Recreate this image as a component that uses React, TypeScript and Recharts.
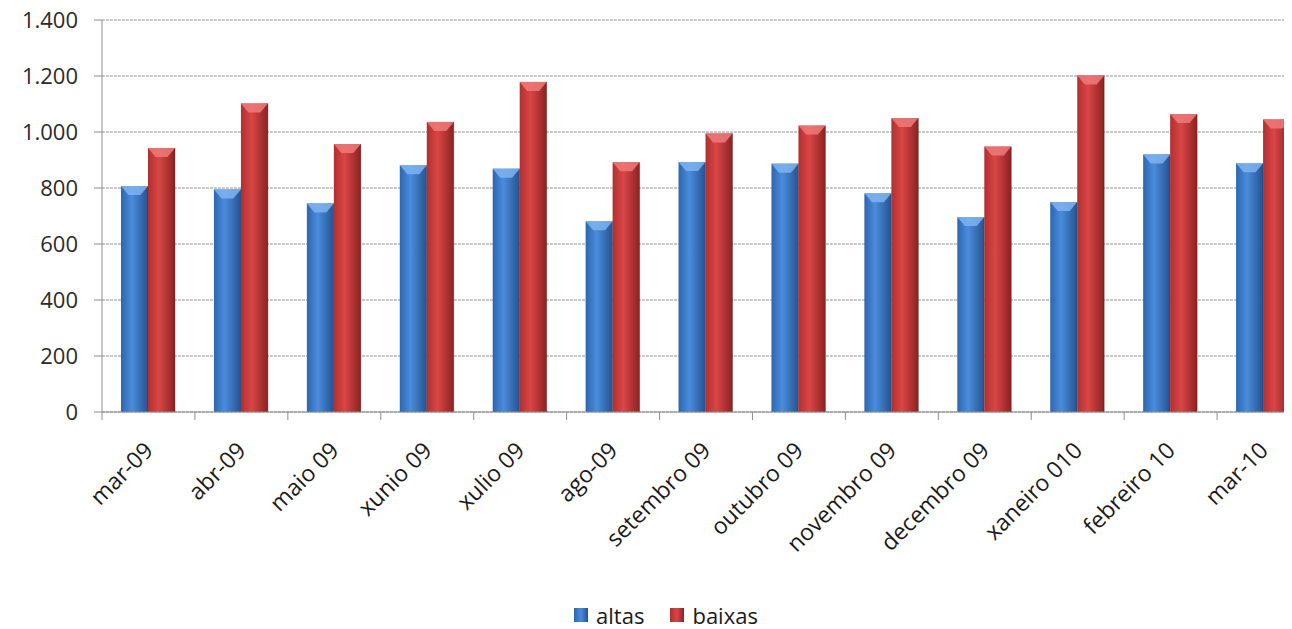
import React from "react";
import { BarChart, Bar, XAxis, YAxis, CartesianGrid, Legend } from "recharts";

const months = [
  "mar-09",
  "abr-09",
  "maio 09",
  "xunio 09",
  "xulio 09",
  "ago-09",
  "setembro 09",
  "outubro 09",
  "novembro 09",
  "decembro 09",
  "xaneiro 010",
  "febreiro 10",
  "mar-10",
];
const altas = [807, 795, 745, 881, 869, 681, 893, 887, 781, 696, 750, 920, 888];
const baixas = [943, 1102, 957, 1036, 1179, 892, 995, 1023, 1050, 948, 1202, 1064, 1045];
const yTicks = [0, 200, 400, 600, 800, 1000, 1200, 1400];

const data = months.map((m, i) => ({ month: m, altas: altas[i], baixas: baixas[i] }));

const CHART_W = 1320;
const CHART_H = 629;
const LEFT = 102;
const RIGHT_MARGIN = 10;
const BAND = (CHART_W - LEFT - RIGHT_MARGIN) / months.length;
const FONT = "'Open Sans', sans-serif";
const AXIS_GRAY = "#8e8e8e";

// "1400" -> "1.400"
const fmt = (v: number) => String(v).replace(/\B(?=(\d{3})+(?!\d))/g, ".");

const COLORS = {
  altas: { left: "#2d66b0", mid: "#4a8cdc", right: "#25538f", top: "#7fb4f0" },
  baixas: { left: "#b22f2f", mid: "#d94646", right: "#8c2222", top: "#f07a7a" },
};

// bar with a cylinder-ish gradient and a light chevron on top
const GlossyBar = (props: any) => {
  const { x, y, width, height, dataKey } = props;
  if (!height || height <= 0) return null;
  const c = COLORS[dataKey as "altas" | "baixas"];
  const bevel = Math.min(9, height);
  return (
    <g>
      <rect x={x} y={y} width={width} height={height} fill={`url(#grad-${dataKey})`} />
      <polygon
        points={`${x},${y} ${x + width},${y} ${x + width * 0.72},${y + bevel} ${x + width * 0.28},${y + bevel}`}
        fill={c.top}
        opacity={0.85}
      />
      <line x1={x + width} y1={y} x2={x + width} y2={y + height} stroke="#000" strokeOpacity={0.25} />
    </g>
  );
};

const MonthTick = (props: any) => {
  const { x, y, payload } = props;
  return (
    <g>
      <line x1={x - BAND / 2} x2={x - BAND / 2} y1={y - 8} y2={y} stroke={AXIS_GRAY} />
      <text
        transform={`translate(${x + 6},${y + 32}) rotate(-45)`}
        textAnchor="end"
        fontSize={23}
        fontFamily={FONT}
        fill="#1a1a1a"
      >
        {payload.value}
      </text>
    </g>
  );
};

const LegendContent = (props: any) => {
  const items = props.payload || [];
  return (
    <div
      style={{
        display: "flex",
        justifyContent: "center",
        gap: 26,
        paddingLeft: 40,
        fontFamily: FONT,
        fontSize: 22,
        lineHeight: "24px",
        color: "#1a1a1a",
      }}
    >
      {items.map((it: any) => {
        const c = COLORS[it.dataKey as "altas" | "baixas"];
        return (
          <div key={it.dataKey} style={{ display: "flex", alignItems: "center" }}>
            <span
              style={{
                display: "inline-block",
                width: 14,
                height: 14,
                marginRight: 8,
                background: `linear-gradient(to right, ${c.left}, ${c.mid}, ${c.right})`,
              }}
            />
            {it.value}
          </div>
        );
      })}
    </div>
  );
};

export default function App() {
  return (
    <div style={{ width: 1292, overflowX: "clip", margin: "-8px -8px 0 -8px", background: "#fff" }}>
      <BarChart
        width={CHART_W}
        height={CHART_H}
        data={data}
        margin={{ top: 20, right: RIGHT_MARGIN, left: 0, bottom: 0 }}
        barGap={0}
        barSize={27}
      >
        <defs>
          {(["altas", "baixas"] as const).map((k) => (
            <linearGradient key={k} id={`grad-${k}`} x1="0" y1="0" x2="1" y2="0">
              <stop offset="0%" stopColor={COLORS[k].left} />
              <stop offset="40%" stopColor={COLORS[k].mid} />
              <stop offset="100%" stopColor={COLORS[k].right} />
            </linearGradient>
          ))}
        </defs>
        <CartesianGrid vertical={false} stroke={AXIS_GRAY} strokeDasharray="3 1" />
        <XAxis
          dataKey="month"
          interval={0}
          height={193}
          tickLine={false}
          tickSize={8}
          tickMargin={0}
          tick={<MonthTick />}
          axisLine={{ stroke: AXIS_GRAY }}
        />
        <YAxis
          width={LEFT}
          domain={[0, 1400]}
          ticks={yTicks}
          tickFormatter={fmt}
          tickSize={8}
          tickMargin={16}
          tickLine={{ stroke: AXIS_GRAY }}
          axisLine={{ stroke: AXIS_GRAY }}
          tick={{ fontSize: 22, fontFamily: FONT, fill: "#2a2a2a" }}
        />
        <Legend
          verticalAlign="bottom"
          content={<LegendContent />}
          wrapperStyle={{ width: 1292, left: 0, top: 603, bottom: "auto" }}
        />
        <Bar dataKey="altas" name="altas" shape={<GlossyBar />} isAnimationActive={false} />
        <Bar dataKey="baixas" name="baixas" shape={<GlossyBar />} isAnimationActive={false} />
      </BarChart>
    </div>
  );
}
